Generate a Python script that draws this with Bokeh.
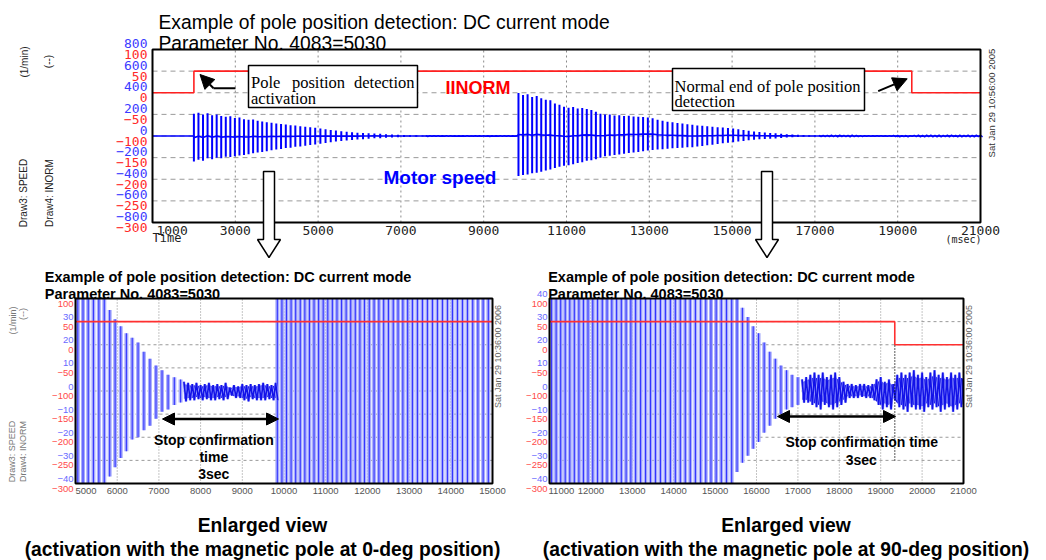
import math
from bokeh.plotting import figure
from bokeh.models import (Range1d, FixedTicker, Label, LinearAxis, BoxAnnotation, Arrow,
                          NormalHead, PolyAnnotation)
from bokeh.embed import file_html
from bokeh.resources import INLINE

# ---------------- data ----------------
speed_pre_t = [1000, 2000]
speed_pre_v = [0, 0]

burst1_t = [2000, 2110, 2220, 2330, 2440, 2550, 2660, 2770, 2880, 2990,
            3100, 3210, 3320, 3430, 3540, 3650, 3760, 3875, 3990, 4105,
            4220, 4335, 4450, 4570, 4690, 4810, 4930, 5055, 5180, 5305,
            5430, 5560, 5690, 5820, 5950, 6085, 6220, 6360, 6500, 6640,
            6785, 6930, 7075, 7220, 7370, 7520]
burst1_hi = [205, 215, 200, 210, 192, 198, 185, 178, 182, 166,
             170, 156, 150, 152, 140, 135, 128, 122, 116, 112,
             106, 100, 96, 90, 86, 80, 76, 70, 62, 56,
             50, 45, 40, 35, 31, 28, 25, 23, 21, 17,
             14, 11, 9, 7, 6, 5]
burst1_lo = [-235, -220, -228, -205, -215, -200, -205, -192, -195, -187,
             -180, -175, -168, -160, -152, -148, -140, -132, -125, -120,
             -112, -108, -100, -96, -90, -84, -78, -72, -65, -58,
             -52, -46, -42, -37, -33, -29, -26, -21, -20, -17,
             -15, -12, -9, -8, -6, -5]

rest1_t = [7600, 7700, 7800, 7900, 8000, 8100, 8200, 8300, 8400, 8500,
           8600, 8700, 8800, 8900, 9000, 9100, 9200, 9300, 9400, 9500,
           9600, 9700, 9800]
rest1_hi = [4, 3.5, 3, 3.5, 2.5, 3, 3.5, 2.5, 3, 2.5,
            3.5, 1.5, 2.5, 2, 3, 2.5, 3, 2.5, 3, 3.5,
            3, 2.5, 3.5]
rest1_lo = [-4.5, -4, -4, -3.5, -4, -3.5, -4, -4, -3.5, -4,
            -3.5, -2, -3, -3, -4, -4.5, -3.5, -4, -4, -4,
            -3.5, -4, -4]

burst2_t = [9840, 9950, 10060, 10170, 10280, 10390, 10500, 10610, 10720, 10830,
            10940, 11050, 11160, 11270, 11380, 11490, 11600, 11710, 11820, 11930,
            12045, 12160, 12275, 12390, 12505, 12620, 12735, 12850, 12965, 13080,
            13200, 13320, 13440, 13560, 13680, 13800, 13920, 14040, 14160, 14280,
            14400, 14525, 14650, 14775, 14900, 15025, 15150, 15275, 15400, 15530,
            15660, 15790, 15920, 16050, 16185, 16320, 16455, 16590, 16725, 16860,
            17000]
burst2_hi = [398, 380, 385, 360, 370, 350, 335, 330, 300, 290,
             270, 262, 268, 255, 258, 250, 240, 225, 205, 198,
             200, 190, 192, 185, 188, 180, 178, 175, 172, 165,
             150, 140, 132, 127, 120, 115, 108, 103, 98, 95,
             90, 86, 82, 78, 75, 70, 62, 55, 48, 42,
             36, 32, 28, 25, 21, 17, 14, 11, 9, 7,
             6]
burst2_lo = [-370, -360, -355, -345, -340, -330, -320, -310, -295, -285,
             -275, -270, -262, -250, -242, -230, -224, -215, -200, -188,
             -182, -176, -170, -165, -158, -152, -148, -140, -134, -130,
             -126, -122, -118, -114, -110, -108, -105, -103, -98, -92,
             -86, -80, -74, -68, -62, -57, -52, -46, -40, -35,
             -31, -28, -25, -22, -18, -15, -12, -10, -8, -7,
             -6]

rest2_t = [17100, 17200, 17300, 17400, 17500, 17600, 17700, 17800, 17900, 18000,
           18100, 18200, 18300, 18400, 18500, 18600, 18700, 18800, 18900, 19000,
           19100, 19200, 19300, 19400, 19500, 19600, 19700, 19800, 19900, 20000,
           20100, 20200, 20300, 20400, 20500, 20600, 20700, 20800, 20900, 21000]
rest2_hi = [5, 6, 7, 8, 7, 8, 6, 7, 8, 6,
            4, 3, 3, 2.5, 3, 3, 2.5, 3, 5, 6,
            4, 5, 3, 7, 8, 7, 8, 9, 7, 8,
            6, 8, 9, 7, 8, 6, 8, 7, 8, 7]
rest2_lo = [-5, -5, -6, -7, -8, -6, -7, -8, -7, -6,
            -5, -3, -3, -3, -2.5, -3, -3, -4, -6, -8,
            -7, -8, -4, -7, -8, -9, -7, -8, -8, -9,
            -7, -8, -7, -9, -8, -7, -9, -8, -7, -8]

iinorm_t = [1000, 2000, 19340, 21000]
iinorm_v = [0, 50, 0, 0]

top_x_ticks = [1000, 3000, 5000, 7000, 9000, 11000, 13000, 15000, 17000, 19000, 21000]
top_blue_ticks = [800, 600, 400, 200, 0, -200, -400, -600, -800]
top_red_ticks = [100, 50, 0, -50, -100, -150, -200, -250, -300]
left_x_ticks = [5000, 6000, 7000, 8000, 9000, 10000, 11000, 12000, 13000, 14000, 15000]
right_x_ticks = [11000, 12000, 13000, 14000, 15000, 16000, 17000, 18000, 19000, 20000, 21000]
zoom_blue_ticks_left = [30, 20, 10, 0, -10, -20, -30, -40]
zoom_blue_ticks_right = [40, 30, 20, 10, 0, -10, -20, -30, -40]
zoom_red_ticks = [100, 50, 0, -50, -100, -150, -200, -250, -300]

# ---------------- page geometry (pixel -> data of each panel) ----------------
W, H = 1046, 560


def TX(px): return 1000 + (px - 152) * 20000 / 828
def TY(py): return 800 - (py - 49) * 1600 / 173
def TR(py): return 100 - (py - 49) * 400 / 173
def LX(px): return 5000 + (px - 75) * 10000 / 417
def RX(px): return 11000 + (px - 549) * 10000 / 414
def ZY(py): return 40 - (py - 298) * 80 / 185
def ZR(py): return 100 - (py - 298) * 400 / 185


def rng(fn, lo_px, hi_px):
    return Range1d(fn(lo_px), fn(hi_px))


p = figure(width=W, height=H, x_range=rng(TX, 0, W), y_range=rng(TY, H, 0),
           x_axis_type=None, y_axis_type=None, title=None,
           min_border=0, min_border_left=0, min_border_right=0, min_border_top=0, min_border_bottom=0,
           output_backend="svg", toolbar_location=None)
p.outline_line_color = None
p.background_fill_color = "white"
p.border_fill_color = "white"
p.extra_x_ranges = {"lx": rng(LX, 0, W), "rx": rng(RX, 0, W)}
p.extra_y_ranges = {
    "tred": rng(TR, H, 0), "zy": rng(ZY, H, 0), "zred": rng(ZR, H, 0),
    "tb_lbl": rng(TY, H + 6, 6), "tr_lbl": rng(TR, H - 5, -5),
    "zb_lbl": rng(ZY, H + 4.5, 4.5), "zr_lbl": rng(ZR, H - 5, -5),
}

BLUE = "#0000ff"
HALF_PI = math.pi / 2


def txt(x, y, text, size, color="black", font="Liberation Sans", style="normal",
        align="left", baseline="alphabetic", angle=0.0):
    p.add_layout(Label(x=x, y=y, text=text, text_font=font, text_font_size=f"{size}px",
                       text_color=color, text_font_style=style, text_align=align,
                       text_baseline=baseline, angle=angle))


def label_axis(side, ticks, color, size, font, standoff, xr="default", yr="default", loc=0.0,
               overrides=None):
    ax = LinearAxis(x_range_name=xr, y_range_name=yr, fixed_location=loc,
                    ticker=FixedTicker(ticks=ticks))
    ax.axis_line_color = None
    ax.major_tick_line_color = None
    ax.minor_tick_line_color = None
    ax.major_tick_out = 0
    ax.major_tick_in = 0
    ax.minor_tick_out = 0
    ax.minor_tick_in = 0
    ax.major_label_standoff = standoff
    ax.major_label_text_color = color
    ax.major_label_text_font = font
    ax.major_label_text_font_size = f"{size}px"
    if overrides:
        ax.major_label_overrides = overrides
    p.add_layout(ax, side)


def grid(xt, yt, x0, x1, y0, y1, xr="default", yr="default", vdash="2 3", hdash="5 4"):
    p.segment(x0=xt, y0=[y0] * len(xt), x1=xt, y1=[y1] * len(xt), x_range_name=xr, y_range_name=yr,
              line_color="#8a8a8a", line_width=1, line_dash=vdash)
    p.segment(x0=[x0] * len(yt), y0=yt, x1=[x1] * len(yt), y1=yt, x_range_name=xr, y_range_name=yr,
              line_color="#9a9a9a", line_width=1, line_dash=hdash)


def frame_box(x0, x1, y0, y1, xr="default", yr="default"):
    p.add_layout(BoxAnnotation(left=x0, right=x1, bottom=y0, top=y1, x_range_name=xr, y_range_name=yr,
                               fill_alpha=0, line_color="black", line_alpha=1, line_width=2))


def step_in_window(t, v, a, b):
    # polyline of a step ("after") series restricted to [a, b]
    def val(x):
        cur = v[0]
        for ti, vi in zip(t, v):
            if ti <= x:
                cur = vi
        return cur
    xs, ys = [a], [val(a)]
    for i in range(1, len(t)):
        if a < t[i] < b:
            xs += [t[i], t[i]]
            ys += [v[i - 1], v[i]]
    xs.append(b)
    ys.append(val(b))
    return xs, ys


def noise_zigzag(rt, rl, rh, a=-1e9, b=1e9):
    # each noise sample drawn as a swing from its high to its low value
    half = (rt[1] - rt[0]) / 2
    xs, ys = [], []
    for t, lo, hi in zip(rt, rl, rh):
        if a <= t and t + half <= b:
            xs += [t, t + half]
            ys += [hi, lo]
    return xs, ys


burst_t = burst1_t + burst2_t
burst_hi = burst1_hi + burst2_hi
burst_lo = burst1_lo + burst2_lo

# ======================= top chart =======================
grid(top_x_ticks, top_blue_ticks, 1000, 21000, -800, 800)

mid_t = speed_pre_t + burst1_t + rest1_t + burst2_t + rest2_t
mid_v = (speed_pre_v
         + [(a + b) / 2 for a, b in zip(burst1_hi, burst1_lo)]
         + [(a + b) / 2 for a, b in zip(rest1_hi, rest1_lo)]
         + [(a + b) / 2 for a, b in zip(burst2_hi, burst2_lo)]
         + [(a + b) / 2 for a, b in zip(rest2_hi, rest2_lo)])
p.line(mid_t, mid_v, line_color=BLUE, line_width=1.6)
p.segment(x0=burst_t, y0=burst_lo, x1=burst_t, y1=burst_hi, line_color=BLUE, line_width=2)
for rt, rl, rh in ((rest1_t, rest1_lo, rest1_hi), (rest2_t, rest2_lo, rest2_hi)):
    zx, zy = noise_zigzag(rt, rl, rh)
    p.line(zx, zy, line_color=BLUE, line_width=1.4)
p.step(iinorm_t, iinorm_v, mode="after", y_range_name="tred", line_color="#ff2020", line_width=1.6)
frame_box(1000, 21000, -800, 800)

label_axis("below", top_x_ticks, "#222222", 13, "DejaVu Sans Mono", 0, loc=-800,
           overrides={1000: "\u00a0" * 5 + "1000"})
label_axis("left", top_blue_ticks, "#3b3bff", 13, "DejaVu Sans Mono", 5, yr="tb_lbl", loc=1000)
label_axis("left", top_red_ticks, "#ff2a2a", 13, "DejaVu Sans Mono", 5, yr="tr_lbl", loc=1000)

txt(TX(158), TY(21.5), "Example of pole position detection: DC current mode", 19.3)
txt(TX(158), TY(43), "Parameter No. 4083=5030", 19.3)
for cx, cy, s in ((23.5, 61.5, "(1/min)"), (48, 61, "(--)"),
                  (22.5, 192.5, "Draw3: SPEED"), (48.5, 192.5, "Draw4: INORM")):
    txt(TX(cx), TY(cy), s, 10, color="#222222", align="center", baseline="middle", angle=HALF_PI)
txt(TX(991), TY(102.5), "Sat Jan 29 10:56:00 2005", 9.5, color="#333333", align="center",
    baseline="middle", angle=HALF_PI)
txt(TX(152), TY(237.5), "Time", 12, color="#222222", font="DejaVu Sans Mono", baseline="middle")
txt(TX(981), TY(238.5), "(msec)", 10, color="#222222", font="DejaVu Sans Mono", align="right",
    baseline="middle")
txt(TX(445), TY(87.3), "IINORM", 18, color="#ff0000", style="bold")
txt(TX(383), TY(176.7), "Motor speed", 19, color="#0000ff", style="bold")

# callout boxes
p.add_layout(BoxAnnotation(left=TX(248), right=TX(417), top=TY(65), bottom=TY(107),
                           fill_color="white", fill_alpha=1, line_color="black", line_alpha=1,
                           line_width=1.5))
txt(TX(250.5), TY(81.5), "Pole", 16.5, font="Liberation Serif")
txt(TX(318), TY(81.5), "position", 16.5, font="Liberation Serif", align="center")
txt(TX(414), TY(81.5), "detection", 16.5, font="Liberation Serif", align="right")
txt(TX(250.5), TY(97.5), "activation", 16.5, font="Liberation Serif")
p.add_layout(BoxAnnotation(left=TX(672), right=TX(864), top=TY(68), bottom=TY(110),
                           fill_color="white", fill_alpha=1, line_color="black", line_alpha=1,
                           line_width=1.5))
txt(TX(674), TY(85.5), "Normal end of pole position", 16.5, font="Liberation Serif")
txt(TX(674), TY(101), "detection", 16.5, font="Liberation Serif")

p.add_layout(Arrow(end=None, x_start=TX(235), y_start=TY(87.7), x_end=TX(213), y_end=TY(87.7),
                   line_color="black", line_width=2))
p.add_layout(Arrow(end=NormalHead(size=14, fill_color="black", line_color="black"),
                   x_start=TX(213), y_start=TY(87.7), x_end=TX(199.5), y_end=TY(74),
                   line_color="black", line_width=2))
p.add_layout(Arrow(end=NormalHead(size=14, fill_color="black", line_color="black"),
                   x_start=TX(877.7), y_start=TY(90.7), x_end=TX(906.7), y_end=TY(78.3),
                   line_color="black", line_width=2))

# hollow down arrows towards the enlarged views
for cx in (268.5, 766.5):
    xs = [cx - 5.5, cx + 5.5, cx + 5.5, cx + 11.5, cx, cx - 11.5, cx - 5.5]
    ys = [171, 171, 239, 239, 257, 239, 239]
    p.add_layout(PolyAnnotation(xs=[TX(v) for v in xs], ys=[TY(v) for v in ys],
                                fill_color="white", fill_alpha=1, line_color="black", line_alpha=1,
                                line_width=1.5))


# ======================= enlarged views =======================
def zoom_panel(xr, x0, x1, xticks, blue_ticks, n_pad):
    grid(xticks, zoom_blue_ticks_right, x0, x1, -40, 40, xr=xr, yr="zy", vdash="1 2", hdash="3 3")
    sel = [(t, max(-40, min(40, lo)), max(-40, min(40, hi)))
           for t, lo, hi in zip(burst_t, burst_lo, burst_hi) if x0 <= t <= x1]
    st = [s[0] for s in sel]
    slo = [s[1] for s in sel]
    shi = [s[2] for s in sel]
    p.segment(x0=st, y0=slo, x1=st, y1=shi, x_range_name=xr, y_range_name="zy",
              line_color="#a9aefc", line_width=4)
    p.segment(x0=st, y0=slo, x1=st, y1=shi, x_range_name=xr, y_range_name="zy",
              line_color="#2020ff", line_alpha=0.85, line_width=1.1)
    for rt, rl, rh in ((rest1_t, rest1_lo, rest1_hi), (rest2_t, rest2_lo, rest2_hi)):
        keep = [i for i, t in enumerate(rt) if x0 <= t <= x1]
        if keep:
            # dense core of the noise band
            p.varea(x=[rt[i] for i in keep], y1=[rl[i] * 0.75 for i in keep],
                    y2=[rh[i] * 0.75 for i in keep], x_range_name=xr, y_range_name="zy",
                    fill_color="#1212e8")
            zx, zy = noise_zigzag(rt, rl, rh, x0, x1)
            p.line(zx, zy, x_range_name=xr, y_range_name="zy", line_color="#9ea3ff", line_width=2.6)
            p.line(zx, zy, x_range_name=xr, y_range_name="zy", line_color="#1212e8", line_width=1.6)
    sx, sy = step_in_window(iinorm_t, iinorm_v, x0, x1)
    p.line(sx, sy, x_range_name=xr, y_range_name="zred", line_color="#ff3030", line_width=1.6)
    frame_box(x0, x1, -40, 40, xr=xr, yr="zy")
    label_axis("below", xticks, "#555555", 9.5, "Liberation Sans", 1, xr=xr, yr="zy", loc=-40,
               overrides={x0: "\u00a0" * n_pad + str(x0)})
    label_axis("left", blue_ticks, "#6a6aff", 9.5, "Liberation Sans", 2, xr=xr, yr="zb_lbl", loc=x0)
    label_axis("left", zoom_red_ticks, "#ff4a4a", 9.5, "Liberation Sans", 2, xr=xr, yr="zr_lbl", loc=x0)


zoom_panel("lx", 5000, 15000, left_x_ticks, zoom_blue_ticks_left, 8)
zoom_panel("rx", 11000, 21000, right_x_ticks, zoom_blue_ticks_right, 9)

for tx0, cap_x, deg in ((44.3, 262, "0"), (547.7, 785.5, "90")):
    txt(TX(tx0), TY(276.5), "Example of pole position detection: DC current mode", 14.5, style="bold")
    txt(TX(tx0), TY(293.5), "Parameter No. 4083=5030", 14.5, style="bold")
    txt(TX(cap_x), TY(524.5), "Enlarged view", 19.3, style="bold", align="center")
    txt(TX(cap_x), TY(548.5), f"(activation with the magnetic pole at {deg}-deg position)", 19.3,
        style="bold", align="center")

txt(TX(497), TY(356), "Sat Jan 29 10:36:00 2006", 9, color="#666666", align="center",
    baseline="middle", angle=HALF_PI)
txt(TX(968), TY(356), "Sat Jan 29 10:36:00 2005", 9, color="#666666", align="center",
    baseline="middle", angle=HALF_PI)
for cx, cy, s in ((12.5, 320, "(1/min)"), (22.5, 313.5, "(--)"),
                  (11.5, 451, "Draw3: SPEED"), (22.5, 451, "Draw4: INORM")):
    txt(TX(cx), TY(cy), s, 9, color="#777777", align="center", baseline="middle", angle=HALF_PI)

# stop confirmation annotations
p.add_layout(Arrow(start=NormalHead(size=12, fill_color="black", line_color="black"),
                   end=NormalHead(size=12, fill_color="black", line_color="black"),
                   x_start=TX(162), y_start=TY(418.5), x_end=TX(278), y_end=TY(418.5),
                   line_color="black", line_width=2.5))
txt(TX(213.3), TY(439.3), "Stop confirmation", 14, style="bold", align="center")
txt(TX(213.3), TY(456), "time", 14, style="bold", align="center")
txt(TX(213.3), TY(473.3), "3sec", 14, style="bold", align="center")

p.add_layout(Arrow(end=None, x_start=iinorm_t[2], y_start=ZY(345), x_end=iinorm_t[2], y_end=ZY(460),
                   x_range_name="rx", y_range_name="zy",
                   line_color="black", line_width=1.3, line_dash="1 2"))
p.add_layout(Arrow(start=NormalHead(size=12, fill_color="black", line_color="black"),
                   end=NormalHead(size=12, fill_color="black", line_color="black"),
                   x_start=TX(777), y_start=TY(416), x_end=TX(895), y_end=TY(416),
                   line_color="black", line_width=2.5))
txt(TX(861.2), TY(441.7), "Stop confirmation time", 14, style="bold", align="center")
txt(TX(860.7), TY(459), "3sec", 14, style="bold", align="center")

open("out.html", "w").write(file_html(p, INLINE))
